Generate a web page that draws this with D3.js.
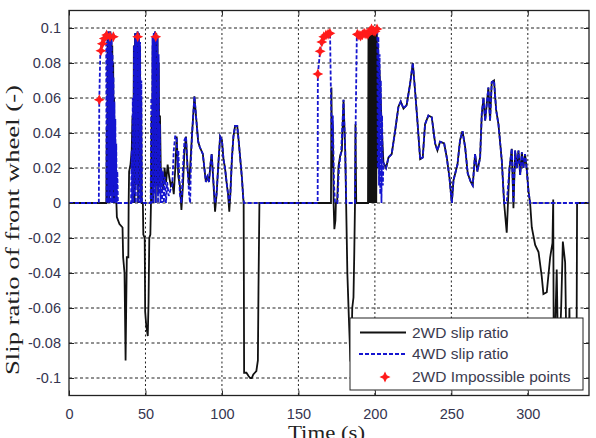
<!doctype html>
<html>
<head>
<meta charset="utf-8">
<script src="https://d3js.org/d3.v7.min.js"></script>
<style>
  body { margin: 0; background: #fff; }
  .tick text { font-family: "Liberation Sans", Arial, sans-serif; font-size: 14.5px; fill: #35354f; }
</style>
</head>
<body>
<svg width="596" height="438"></svg>
<script>
// time axis ticks and slip ratio ticks
var xTicks = [0, 50, 100, 150, 200, 250, 300];
var yTicks = [-0.1, -0.08, -0.06, -0.04, -0.02, 0, 0.02, 0.04, 0.06, 0.08, 0.1];

// 2WD slip ratio [time, slip]
var slip2wd = [
  [0,0],[24.4,0],
  [24.7,0.043],[25.0,0.0],[25.3,0.097],[25.6,0.01],[25.9,0.098],[26.2,0.0],[26.5,0.097],[26.8,0.01],
  [27.1,0.098],[27.4,0.005],[27.7,0.096],[28.0,0.01],[28.3,0.09],[28.6,0.0],[28.9,0.08],[29.2,0.01],
  [29.5,0.06],[29.8,0.0],[30.1,0.045],[30.4,0.005],[30.7,0.03],[31.0,0.0],
  [31.3,-0.008],[33.0,-0.012],[35.0,-0.014],[35.4,-0.031],[36.3,-0.04],[37.0,-0.09],[37.4,-0.06],
  [37.8,-0.031],[38.8,-0.031],[39.0,0],
  [39.3,0.018],[40.2,0.022],[41.0,0.03],[41.5,0.05],[42.0,0.0],[42.4,0.09],[42.8,0.0],[43.2,0.097],
  [43.6,0.01],[44.0,0.097],[44.4,0.02],[44.8,0.098],[45.2,0.0],[45.6,0.097],[46.0,0.01],[46.4,0.09],
  [46.8,0.0],[47.2,0.06],[47.6,0.0],[48.3,0],
  [48.6,-0.018],[49.5,-0.02],[49.8,-0.062],[50.5,-0.07],[51.5,-0.076],[52.0,-0.057],[52.5,-0.02],
  [53.2,-0.018],[53.6,0],
  [54.0,0.05],[54.3,0.0],[54.7,0.09],[55.1,0.0],[55.5,0.097],[55.9,0.01],[56.3,0.098],[56.7,0.0],
  [57.1,0.097],[57.5,0.01],[57.9,0.095],[58.3,0.005],[58.7,0.08],[59.1,0.01],[59.5,0.05],[60.0,0.02],
  [60.6,0.018],[61.5,0.008],[62.5,0.02],[63.5,0.012],[64.5,0.022],[65.5,0.015],[66.5,0.01],[67.5,0.012],
  [68.5,0.005],[69.5,0.02],[70.4,0.038],[71.5,0.015],[72.5,0.01],[73.5,-0.004],[74.5,0.01],[75.5,0.03],
  [76.5,0.038],[77.5,0.02],[78.5,0.01],[79.5,0.025],[80.5,0.04],[82.0,0.061],[83.5,0.045],[84.5,0.035],
  [85.5,0.032],[86.5,0.03],[87.5,0.028],[88.5,0.02],[89.5,0.012],[90.5,0.015],[91.5,0.012],[92.5,0.022],
  [93.3,0.028],[94.2,0.015],[95.5,-0.005],[96.5,0.005],[97.5,0.02],[98.8,0.038],[100,0.036],[101,0.025],
  [102,0.02],[103,0.012],[104,0.005],[104.8,-0.005],[105.5,0.005],[106.5,0.025],[107.5,0.038],[108.6,0.044],
  [110,0.044],[111,0.035],[112,0.025],[113,0.015],[114,0.002],[114.2,0],
  [114.5,-0.097],[116,-0.097],[117.5,-0.099],[118.5,-0.1],[119.5,-0.1],[120.5,-0.098],[121.5,-0.097],
  [122.5,-0.096],[123.5,-0.09],[123.9,-0.048],[124.5,0],
  [171.3,0],[171.6,0.066],[172.0,0.02],[172.5,0.045],[173.0,0.0],[173.5,-0.015],[174.2,-0.01],[174.5,0],
  [175.3,0],[176.2,0.021],[177.3,0.027],[178.4,0.03],[179.5,0.059],[180.6,0.03],[181.2,0],[182.0,-0.04],
  [183.0,-0.066],[184.0,-0.09],[184.6,-0.09],[185.2,-0.06],[186.0,-0.054],[186.5,-0.03],[187.0,0],
  [187.3,0.045],[187.8,0],[195.5,0],
  [195.8,0.097],[196.1,0],[196.4,0.098],[196.7,0],[197.0,0.097],[197.3,0],[197.6,0.098],[197.9,0],
  [198.2,0.097],[198.5,0],[198.8,0.098],[199.1,0],[199.4,0.097],[199.7,0],[200.0,0.098],[200.3,0],
  [200.6,0.097],[200.9,0],[201.3,0.097],[201.6,0.02],[202.0,0.09],[202.4,0.03],[202.8,0.08],[203.4,0.068],
  [204.5,0.043],[205.6,0.023],[207.3,0.020],[208.9,0.026],[211.0,0.028],[213.2,0.041],[215.4,0.055],
  [216.9,0.058],[218.7,0.054],[220.8,0.056],[223.0,0.068],[224.8,0.080],[226.3,0.064],[227.8,0.047],
  [229.6,0.025],[231.3,0.026],[232.8,0.045],[235.0,0.050],[237.2,0.049],[239.4,0.034],[240.9,0.030],
  [242.6,0.035],[245.3,0.034],[247.0,0.026],[248.7,0.015],[250.3,0.0],[251.4,0.013],[254.0,0.022],
  [255.7,0.036],[257.3,0.041],[259.0,0.032],[260.7,0.017],[262.7,0.012],[264.0,0.010],[265.5,0.028],
  [267.0,0.018],[268.8,0.026],[269.9,0.051],[271.0,0.060],[272.1,0.047],[273.2,0.057],[274.2,0.066],
  [275.3,0.047],[276.4,0.069],[277.9,0.070],[279.3,0.053],[280.8,0.045],[283.0,0.024],[284.5,0.0],
  [286.2,-0.017],[288.0,0.020],[289.5,0.031],[290.6,-0.003],[291.7,0.030],[292.8,0.02],[293.9,0.030],
  [295.0,0.016],[296.1,0.029],[297.1,0.020],[298.2,0.028],[299.3,0.019],[300.4,0.007],[301.5,0.0],
  [302.6,-0.014],[304.8,-0.024],[307.0,-0.028],[309.1,-0.042],[310.2,-0.052],[312.4,-0.051],[314.6,-0.031],
  [316.1,-0.023],[316.6,0.002],[317.0,-0.1],[318.9,-0.038],[320.0,-0.1],[321.8,-0.06],[322.9,-0.022],
  [324.4,-0.034],[325.5,-0.1],[326.5,-0.1],[327.2,-0.06],[327.7,-0.1],[331.8,-0.1],[332.2,0],[340,0]
];

// 4WD slip ratio [time, slip]
var slip4wd = [
  [0,0],[19.5,0],[19.8,0.059],[20.5,0.087],[21.5,0.092],[22.5,0.094],[23.5,0.096],[24.3,0.097],
  [24.6,0.0],[24.9,0.096],[25.2,0.005],[25.5,0.098],[25.8,0.0],[26.1,0.097],[26.4,0.01],[26.7,0.098],
  [27.0,0.0],[27.3,0.097],[27.6,0.005],[27.9,0.095],[28.2,0.0],[28.5,0.085],[28.8,0.01],[29.1,0.072],
  [29.4,0.0],[29.7,0.058],[30.0,0.005],[30.3,0.048],[30.6,0.0],[30.9,0.034],[31.2,0.0],[31.6,0.018],
  [32.0,0.0],[40.6,0],
  [41.0,0.03],[41.3,0.0],[41.7,0.06],[42.1,0.0],[42.5,0.09],[42.9,0.005],[43.3,0.097],[43.7,0.0],
  [44.1,0.097],[44.5,0.01],[44.9,0.098],[45.3,0.0],[45.7,0.097],[46.1,0.0],[46.5,0.092],[46.9,0.0],
  [47.3,0.07],[47.7,0],[53.4,0],
  [53.8,0.06],[54.2,0.0],[54.6,0.095],[55.0,0.0],[55.4,0.097],[55.8,0.005],[56.2,0.098],[56.6,0.0],
  [57.0,0.097],[57.4,0.01],[57.8,0.095],[58.2,0.0],[58.6,0.085],[59.0,0.005],[59.4,0.045],[59.8,0.0],
  [60.3,0.02],[60.8,0.0],[61.4,0.018],[62.0,0.0],[62.7,0.015],[63.4,0.0],[64.2,0.012],[65.2,0.004],
  [66.5,0.008],[67.5,0.01],[68.5,0.03],[69.4,0.038],[70.4,0.038],[71.0,0.02],[71.5,0.03],[72.5,0.005],
  [73.5,0.0],[74.5,0.02],[75.5,0.036],[76.5,0.038],[77.5,0.02],[78.5,0.005],[79.2,0.0],[79.8,0.025],
  [80.5,0.04],[82.0,0.061],[83.5,0.045],[84.5,0.035],[85.5,0.032],[86.5,0.03],[87.5,0.028],[88.5,0.02],
  [89.5,0.012],[90.5,0.015],[91.5,0.012],[92.5,0.022],[93.3,0.028],[94.2,0.015],[95.5,0.0],[96.5,0.005],
  [97.5,0.02],[98.8,0.038],[100,0.036],[101,0.025],[102,0.02],[103,0.012],[104,0.005],[104.8,0.0],
  [105.5,0.005],[106.5,0.025],[107.5,0.038],[108.6,0.044],[110,0.044],[111,0.035],[112,0.025],[113,0.015],
  [114,0.002],[114.5,0],[162.6,0],
  [162.7,0.0735],[164.2,0.087],[165.3,0.092],[166.8,0.095],[168.6,0.097],[170.7,0.097],[171.3,0.06],
  [172.0,0.03],[172.5,0.05],[173.3,0.01],[174.0,0],[175.5,0],[176.5,0.02],[178.0,0.03],[179.5,0.059],
  [180.6,0.03],[181.3,0],[187.0,0],
  [187.5,0.05],[188.2,0.096],[189.2,0.097],[191.4,0.095],[193.6,0.097],[195.8,0.096],[198.0,0.099],
  [200.1,0.098],[201.6,0.099],[201.9,0.02],[202.3,0.095],[202.7,0.01],[203.1,0.085],[203.5,0.005],
  [203.9,0.07],[204.3,0.0],[204.7,0.05],[205.2,0.01],[205.6,0.023],
  [207.3,0.020],[208.9,0.026],[211.0,0.028],[213.2,0.041],[215.4,0.055],
  [216.9,0.058],[218.7,0.054],[220.8,0.056],[223.0,0.068],[224.8,0.080],[226.3,0.064],[227.8,0.047],
  [229.6,0.025],[231.3,0.026],[232.8,0.045],[235.0,0.050],[237.2,0.049],[239.4,0.034],[240.9,0.030],
  [242.6,0.035],[245.3,0.034],[247.0,0.026],[248.7,0.015],[250.3,0.0],[251.4,0.013],[254.0,0.022],
  [255.7,0.036],[257.3,0.041],[259.0,0.032],[260.7,0.017],[262.7,0.012],[264.0,0.010],[265.5,0.028],
  [267.0,0.018],[268.8,0.026],[269.9,0.051],[271.0,0.060],[272.1,0.047],[273.2,0.057],[274.2,0.066],
  [275.3,0.047],[276.4,0.069],[277.9,0.070],[279.3,0.053],[280.8,0.045],[283.0,0.024],[284.5,0.0],
  [286.2,0.0],[288.0,0.020],[289.5,0.031],[290.6,0.0],[291.7,0.030],[292.8,0.02],[293.9,0.030],
  [295.0,0.016],[296.1,0.029],[297.1,0.020],[298.2,0.028],[299.3,0.019],[300.4,0.007],[301.5,0.0],[340,0]
];

// 2WD impossible points [time, slip]
var impossiblePts = [
  [19.8,0.059],[20.9,0.087],[21.8,0.091],[23.1,0.094],[24.6,0.096],[26.8,0.095],[29.0,0.095],
  [44.9,0.095],[56.7,0.095],
  [162.7,0.0737],[164.2,0.0867],[165.3,0.092],[166.6,0.095],[168.0,0.096],[169.4,0.0965],[170.6,0.097],
  [188.5,0.0964],[189.6,0.0958],[190.7,0.0954],[191.8,0.0962],[193.0,0.097],[194.2,0.0966],[195.4,0.0965],
  [196.6,0.098],[197.8,0.0994],[199.0,0.0985],[200.1,0.098],[201.4,0.0994]
];

var legendLabels = ["2WD slip ratio", "4WD slip ratio", "2WD Impossible points"];

var svg = d3.select("svg");
var plotL = 69, plotR = 589, plotT = 10.5, plotB = 395.5;

var x = d3.scaleLinear().domain([0, 340]).range([plotL, plotR]);
var y = d3.scaleLinear().domain([-0.11, 0.11]).range([plotB, plotT]);

svg.append("clipPath").attr("id", "plotclip")
  .append("rect").attr("x", plotL).attr("y", plotT).attr("width", plotR - plotL).attr("height", plotB - plotT);

// grid
var grid = svg.append("g");
grid.selectAll(".gx").data(xTicks.filter(function (d) { return d > 0; })).enter().append("line")
  .attr("x1", function (d) { return x(d); }).attr("x2", function (d) { return x(d); })
  .attr("y1", plotT).attr("y2", plotB)
  .style("stroke", "#222").style("stroke-width", 1).style("stroke-dasharray", "2,2.5");
grid.selectAll(".gy").data(yTicks).enter().append("line")
  .attr("x1", plotL).attr("x2", plotR)
  .attr("y1", function (d) { return y(d); }).attr("y2", function (d) { return y(d); })
  .style("stroke", "#222").style("stroke-width", 1).style("stroke-dasharray", "3,2.5");

// series
var line = d3.line()
  .x(function (d) { return x(d[0]); })
  .y(function (d) { return y(d[1]); });

var plot = svg.append("g").attr("clip-path", "url(#plotclip)");
plot.append("path").datum(slip2wd)
  .attr("d", line)
  .style("fill", "none").style("stroke", "#111").style("stroke-width", 1.8);
plot.append("path").datum(slip4wd)
  .attr("d", line)
  .style("fill", "none").style("stroke", "#1515d0").style("stroke-width", 1.8)
  .style("stroke-dasharray", "4,2");

var star = "M0,-5.5L1.8,-1.8L5.5,0L1.8,1.8L0,5.5L-1.8,1.8L-5.5,0L-1.8,-1.8Z";
plot.selectAll(".pt").data(impossiblePts).enter().append("path")
  .attr("d", star)
  .attr("transform", function (d) { return "translate(" + x(d[0]) + "," + y(d[1]) + ")"; })
  .style("fill", "#ff1a1a");

// axes with inward ticks
var fmt = function (d) { return String(+d.toFixed(2)); };
svg.append("g").attr("transform", "translate(0," + plotB + ")")
  .call(d3.axisBottom(x).tickValues(xTicks).tickSizeInner(-5).tickSizeOuter(0).tickPadding(13))
  .call(function (g) { g.select(".domain").remove(); });
svg.append("g").attr("transform", "translate(" + plotL + ",0)")
  .call(d3.axisLeft(y).tickValues(yTicks).tickFormat(fmt).tickSizeInner(-5).tickSizeOuter(0).tickPadding(8))
  .call(function (g) { g.select(".domain").remove(); });
svg.append("g").attr("transform", "translate(0," + plotT + ")")
  .call(d3.axisTop(x).tickValues(xTicks).tickSizeInner(-5).tickSizeOuter(0).tickFormat(""))
  .call(function (g) { g.select(".domain").remove(); });
svg.append("g").attr("transform", "translate(" + plotR + ",0)")
  .call(d3.axisRight(y).tickValues(yTicks).tickSizeInner(-5).tickSizeOuter(0).tickFormat(""))
  .call(function (g) { g.select(".domain").remove(); });
svg.selectAll(".tick line").style("stroke", "#222");

svg.append("rect")
  .attr("x", plotL).attr("y", plotT).attr("width", plotR - plotL).attr("height", plotB - plotT)
  .style("fill", "none").style("stroke", "#222").style("stroke-width", 1.3);

// axis titles
svg.append("text")
  .attr("x", 326.5).attr("y", 439)
  .attr("text-anchor", "middle")
  .attr("textLength", 77).attr("lengthAdjust", "spacingAndGlyphs")
  .style("font-family", "'Liberation Serif', 'Times New Roman', serif")
  .style("font-size", "19px").style("fill", "#222")
  .text("Time (s)");
svg.append("text")
  .attr("transform", "translate(18.5,230)rotate(-90)")
  .attr("text-anchor", "middle")
  .attr("textLength", 290).attr("lengthAdjust", "spacingAndGlyphs")
  .style("font-family", "'Liberation Serif', 'Times New Roman', serif")
  .style("font-size", "19.5px").style("fill", "#222")
  .text("Slip ratio of front wheel (-)");

// legend
var lg = svg.append("g");
lg.append("rect").attr("x", 350).attr("y", 318).attr("width", 233).attr("height", 72)
  .style("fill", "#fff").style("stroke", "#222").style("stroke-width", 1);
var rowY = [332.5, 354, 377];
lg.append("line").attr("x1", 360).attr("x2", 406).attr("y1", rowY[0]).attr("y2", rowY[0])
  .style("stroke", "#111").style("stroke-width", 1.8);
lg.append("line").attr("x1", 359).attr("x2", 406).attr("y1", rowY[1]).attr("y2", rowY[1])
  .style("stroke", "#1515d0").style("stroke-width", 1.8).style("stroke-dasharray", "4,2");
lg.append("path").attr("d", star).attr("transform", "translate(385," + rowY[2] + ")").style("fill", "#ff1a1a");
lg.selectAll(".lt").data(legendLabels).enter().append("text")
  .attr("x", 412).attr("y", function (d, i) { return rowY[i] + 5; })
  .style("font-family", "'Liberation Sans', Arial, sans-serif")
  .style("font-size", "15.5px").style("fill", "#3b3b4f")
  .text(function (d) { return d; });
</script>
</body>
</html>
